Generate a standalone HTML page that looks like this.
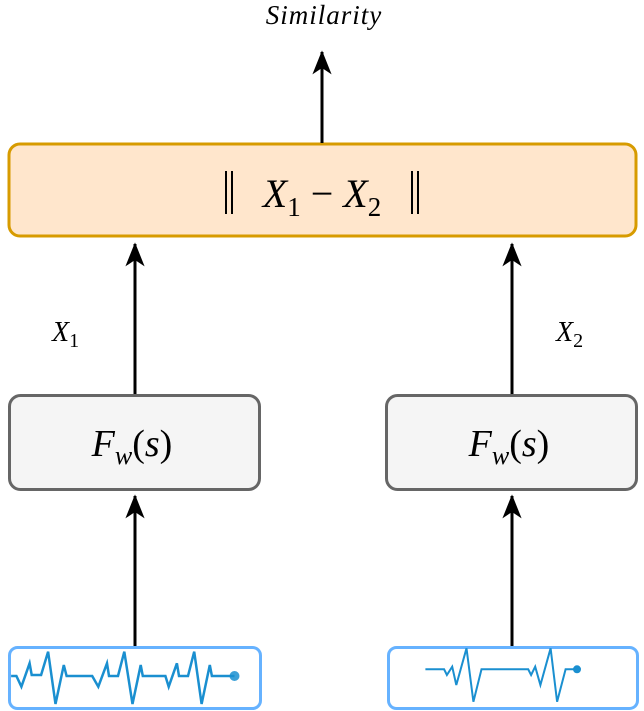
<!DOCTYPE html>
<html><head><meta charset="utf-8"><style>
html,body{margin:0;padding:0;background:#fff;}
svg{display:block;}
text{font-family:"Liberation Serif",serif;fill:#000;}
</style></head><body>
<svg width="644" height="711" viewBox="0 0 644 711" xmlns="http://www.w3.org/2000/svg">
<defs>
<marker id="ah" markerWidth="24" markerHeight="30" refX="28" refY="12" orient="auto" markerUnits="userSpaceOnUse" viewBox="0 0 30 24">
<path d="M0,0 L30,12 L0,24 L8,12 Z" fill="#000"/>
</marker>
</defs>
<rect x="9" y="144" width="627" height="92" rx="11" fill="#ffe6cc" stroke="#d79b00" stroke-width="3"/>
<g stroke="#000" stroke-width="2">
<line x1="226" y1="171" x2="226" y2="214"/><line x1="232" y1="171" x2="232" y2="214"/>
<line x1="412" y1="171" x2="412" y2="214"/><line x1="418" y1="171" x2="418" y2="214"/>
</g>
<text x="322" y="207" font-size="40" text-anchor="middle"><tspan font-style="italic">X</tspan><tspan font-size="27" dy="9">1</tspan><tspan dy="-9"> − </tspan><tspan font-style="italic">X</tspan><tspan font-size="27" dy="9">2</tspan></text>
<rect x="9.5" y="395.5" width="250" height="94" rx="11" fill="#f5f5f5" stroke="#666" stroke-width="3"/>
<rect x="386.5" y="395.5" width="250" height="94" rx="11" fill="#f5f5f5" stroke="#666" stroke-width="3"/>
<text x="132" y="456" font-size="38" text-anchor="middle"><tspan font-style="italic">F</tspan><tspan font-style="italic" font-size="26" dy="8">w</tspan><tspan dy="-8">(</tspan><tspan font-style="italic">s</tspan><tspan>)</tspan></text>
<text x="509" y="456" font-size="38" text-anchor="middle"><tspan font-style="italic">F</tspan><tspan font-style="italic" font-size="26" dy="8">w</tspan><tspan dy="-8">(</tspan><tspan font-style="italic">s</tspan><tspan>)</tspan></text>
<rect x="9.5" y="647.5" width="251" height="61" rx="8" fill="#fff" stroke="#66b2ff" stroke-width="3"/>
<rect x="388.5" y="647.5" width="249" height="61" rx="8" fill="#fff" stroke="#66b2ff" stroke-width="3"/>
<polyline fill="none" stroke="#1a8fd0" stroke-width="2.5" points="11.1,676 16.4,676 21.4,686.7 29.6,663.3 31.7,675 41.1,675 48.1,651.7 55.5,704 63.8,665 66.6,676 92.2,676 98.3,686.7 107,663.3 109,676 118,676 124.3,651.7 132.5,704 140.7,665 142.8,676 165.4,676 168.7,686.7 176.9,663.3 179,676 188,676 194.2,651.7 201.6,704 209.8,665 211.9,676 234.5,676"/>
<circle cx="234.5" cy="676" r="5" fill="#1a8fd0" opacity="0.85"/>
<polyline fill="none" stroke="#1a8fd0" stroke-width="2" points="425.4,669.3 444.1,669.3 446.9,675 452.2,666.7 456.3,685 466.5,648.3 473.4,701.7 481.5,669.3 528.2,669.3 531.1,675 535.2,666.7 540.4,685 550.6,648.3 557.1,701.7 565.6,669.3 577,669.3"/>
<circle cx="577" cy="669.3" r="4" fill="#1a8fd0"/>
<g stroke="#000" stroke-width="3" fill="none">
<line x1="322" y1="143" x2="322" y2="52" marker-end="url(#ah)"/>
<line x1="135" y1="394" x2="135" y2="244" marker-end="url(#ah)"/>
<line x1="512" y1="394" x2="512" y2="244" marker-end="url(#ah)"/>
<line x1="135" y1="646" x2="135" y2="496" marker-end="url(#ah)"/>
<line x1="512" y1="646" x2="512" y2="496" marker-end="url(#ah)"/>
</g>
<text x="324" y="24" font-size="27" font-style="italic" text-anchor="middle" letter-spacing="1">Similarity</text>
<text x="52" y="341" font-size="28"><tspan font-style="italic">X</tspan><tspan font-size="20" dy="6">1</tspan></text>
<text x="556" y="341" font-size="28"><tspan font-style="italic">X</tspan><tspan font-size="20" dy="6">2</tspan></text>
</svg>
</body></html>
